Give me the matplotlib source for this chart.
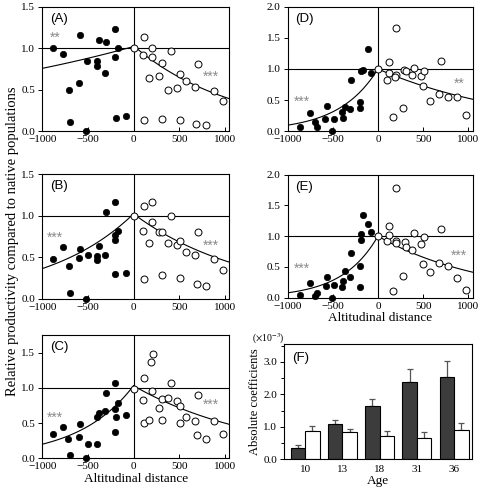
import numpy as np
import matplotlib
matplotlib.use("Agg")
import matplotlib.pyplot as plt
from matplotlib.ticker import MultipleLocator

plt.rcParams['font.family'] = ['Liberation Serif', 'DejaVu Serif']
plt.rcParams['mathtext.fontset'] = 'stix'

# ---- data ----
# panel A
a_fill_x = [-888, -772, -709, -698, -601, -582, -519, -507, -403, -396, -377, -313, -302, -198, -205, -194, -175, -82]
a_fill_y = [1.0, 0.93, 0.50, 0.11, 0.58, 1.16, 0.0, 0.85, 0.79, 0.85, 1.10, 0.70, 1.08, 1.23, 0.89, 0.16, 1.0, 0.18]
a_open_x = [0, 112, 101, 205, 205, 175, 276, 310, 377, 407, 474, 511, 575, 675, 709, 877, 981, 112, 317, 515, 690, 799]
a_open_y = [1.0, 1.14, 0.92, 1.0, 0.89, 0.64, 0.67, 0.82, 0.50, 0.97, 0.52, 0.69, 0.61, 0.53, 0.81, 0.48, 0.36, 0.14, 0.15, 0.14, 0.09, 0.07]
# panel B
b_fill_x = [-888, -772, -709, -694, -601, -582, -519, -504, -403, -396, -377, -317, -306, -198, -205, -205, -175, -198, -82]
b_fill_y = [0.48, 0.62, 0.39, 0.07, 0.49, 0.60, 0.0, 0.52, 0.46, 0.51, 0.63, 0.52, 1.04, 1.16, 0.76, 0.71, 0.81, 0.29, 0.31]
b_open_x = [0, 112, 104, 112, 205, 205, 175, 276, 310, 313, 377, 407, 474, 511, 515, 575, 675, 709, 694, 799, 877, 981]
b_open_y = [1.0, 1.12, 0.81, 0.24, 1.16, 0.92, 0.67, 0.80, 0.80, 0.28, 0.67, 0.99, 0.65, 0.69, 0.25, 0.56, 0.52, 0.80, 0.17, 0.15, 0.47, 0.34]
# panel C
c_fill_x = [-888, -772, -713, -694, -601, -582, -519, -504, -403, -396, -377, -313, -302, -201, -205, -194, -201, -175, -82]
c_fill_y = [0.35, 0.45, 0.27, 0.05, 0.30, 0.49, 0.0, 0.21, 0.59, 0.20, 0.65, 0.67, 0.93, 1.07, 0.70, 0.58, 0.37, 0.79, 0.61]
c_open_x = [0, 112, 104, 112, 194, 209, 205, 175, 276, 310, 317, 377, 407, 474, 511, 515, 575, 675, 709, 694, 799, 877, 981]
c_open_y = [0.99, 1.14, 0.83, 0.50, 1.37, 1.48, 0.95, 0.55, 0.72, 0.84, 0.55, 0.85, 1.07, 0.81, 0.74, 0.50, 0.58, 0.53, 0.90, 0.33, 0.28, 0.53, 0.35]
# panel D
d_fill_x = [-868, -755, -696, -674, -586, -568, -509, -491, -403, -385, -366, -308, -297, -198, -198, -183, -165, -106, -81]
d_fill_y = [0.075, 0.30, 0.14, 0.065, 0.19, 0.40, 0.0, 0.19, 0.31, 0.22, 0.39, 0.36, 0.83, 0.47, 0.37, 0.97, 0.98, 1.32, 0.94]
d_open_x = [0, 117, 103, 125, 198, 201, 194, 172, 275, 293, 311, 377, 403, 480, 509, 502, 575, 674, 700, 780, 872, 971]
d_open_y = [1.0, 1.11, 0.82, 0.93, 1.66, 0.91, 0.87, 0.23, 0.38, 0.99, 0.96, 0.91, 1.02, 0.88, 0.96, 0.72, 0.49, 0.59, 1.13, 0.55, 0.55, 0.26]
# panel E
e_fill_x = [-864, -755, -696, -674, -579, -568, -509, -491, -403, -385, -366, -308, -297, -198, -198, -183, -183, -165, -106, -81]
e_fill_y = [0.05, 0.24, 0.02, 0.08, 0.19, 0.34, 0.0, 0.20, 0.17, 0.27, 0.44, 0.34, 0.72, 0.52, 0.18, 0.93, 1.04, 1.34, 1.20, 1.06]
e_open_x = [0, 117, 103, 125, 198, 198, 201, 172, 278, 297, 315, 377, 403, 480, 509, 502, 575, 674, 700, 780, 872, 971]
e_open_y = [1.0, 1.16, 0.92, 1.02, 1.78, 0.92, 0.89, 0.11, 0.36, 0.91, 0.82, 0.78, 1.05, 0.87, 0.98, 0.54, 0.41, 0.57, 1.12, 0.51, 0.32, 0.12]

# exponential fits: (intercept, rate) for the lower (left) and upper (right) side
fit_left = {'A': (1.02, 0.000298), 'B': (1.02, 0.00104), 'C': (1.03, 0.00164),
            'D': (1.00, 0.00233), 'E': (1.00, 0.00253)}
fit_right = {'A': (1.03, 0.00092), 'B': (1.02, 0.000805), 'C': (1.03, 0.000723),
             'D': (1.00, 0.000635), 'E': (1.00, 0.00084)}
sig_left = {'A': '**', 'B': '***', 'C': '***', 'D': '***', 'E': '***'}
sig_right = {'A': '***', 'B': '***', 'C': '***', 'D': '**', 'E': '***'}

# panel F
ages = ['10', '13', '18', '31', '36']
coef_low = [0.35, 1.08, 1.63, 2.38, 2.53]
coef_low_err = [0.08, 0.12, 0.24, 0.40, 0.51]
coef_high = [0.88, 0.83, 0.73, 0.66, 0.89]
coef_high_err = [0.14, 0.10, 0.14, 0.19, 0.24]

W, H = 480, 491
fig = plt.figure(figsize=(W / 100, H / 100), dpi=100)
SANS = ['Liberation Sans', 'DejaVu Sans']


def box(l, r, t, b):
    return [l / W, 1 - b / H, (r - l) / W, (b - t) / H]


def scatter_panel(rect, tag, fx, fy, ox, oy, ylim, sigpos, xlabel=False):
    ax = fig.add_axes(rect)
    ax.axhline(1.0, color='black', lw=0.8, zorder=1)
    ax.axvline(0, color='black', lw=0.8, zorder=1)
    a, k = fit_left[tag]
    xl = np.linspace(-1000, 0, 100)
    ax.plot(xl, a * np.exp(k * xl), color='black', lw=0.8, zorder=2)
    a, k = fit_right[tag]
    xr = np.linspace(0, 1050, 100)
    ax.plot(xr, a * np.exp(-k * xr), color='black', lw=0.8, zorder=2)
    ax.plot(ox, oy, 'o', ms=5.0, mfc='white', mec='black', mew=0.7, clip_on=False, zorder=3)
    ax.plot(fx, fy, 'o', ms=4.6, mfc='black', mec='black', mew=0.5, clip_on=False, zorder=4)
    ax.set_xlim(-1000, 1050)
    ax.set_ylim(*ylim)
    ax.set_xticks([-1000, -500, 0, 500, 1000])
    ax.yaxis.set_major_locator(MultipleLocator(0.5))
    ax.yaxis.set_major_formatter(matplotlib.ticker.FormatStrFormatter('%.1f'))
    ax.tick_params(axis='x', direction='in', length=3, width=0.7, labelsize=8, pad=3)
    ax.tick_params(axis='y', direction='out', length=3, width=0.7, labelsize=8, pad=2)
    for s in ax.spines.values():
        s.set_linewidth(0.8)
    ax.text(0.04, 0.95, '(' + tag + ')', transform=ax.transAxes, ha='left', va='top',
            fontsize=9.5, family=SANS)
    (lx, ly), (rx, ry) = sigpos
    ax.text(lx, ly, sig_left[tag], color='#8a8a8a', fontsize=10, ha='center', va='center', family=SANS)
    ax.text(rx, ry, sig_right[tag], color='#8a8a8a', fontsize=10, ha='center', va='center', family=SANS)
    if xlabel:
        ax.set_xlabel('Altitudinal distance', fontsize=9.5, labelpad=1)
    return ax


scatter_panel(box(42.3, 229.3, 6.7, 131.2), 'A', a_fill_x, a_fill_y, a_open_x, a_open_y,
              (0, 1.5), ((-860, 1.13), (850, 0.66)))
scatter_panel(box(42.3, 229.3, 174, 298.5), 'B', b_fill_x, b_fill_y, b_open_x, b_open_y,
              (0, 1.5), ((-860, 0.73), (850, 0.64)))
scatter_panel(box(42.3, 229.3, 335, 458.3), 'C', c_fill_x, c_fill_y, c_open_x, c_open_y,
              (0, 1.75), ((-860, 0.58), (850, 0.76)), xlabel=True)
scatter_panel(box(287.7, 472.7, 6.7, 131.2), 'D', d_fill_x, d_fill_y, d_open_x, d_open_y,
              (0, 2.0), ((-840, 0.48), (900, 0.76)))
scatter_panel(box(287.7, 472.7, 174.5, 297.7), 'E', e_fill_x, e_fill_y, e_open_x, e_open_y,
              (0, 2.0), ((-840, 0.47), (900, 0.68)), xlabel=True)

fig.text(13 / W, 1 - 241 / H, 'Relative productivity compared to native populations',
         rotation=90, ha='center', va='center', fontsize=10.5)

# panel F
axf = fig.add_axes(box(284.3, 471.7, 344.3, 459.3))
pos = np.arange(len(ages))
bw = 0.39
axf.bar(pos - bw / 2, coef_low, bw, color='#3c3c3c', edgecolor='black', lw=0.8, zorder=2)
axf.bar(pos + bw / 2, coef_high, bw, color='white', edgecolor='black', lw=0.8, zorder=2)
axf.errorbar(pos - bw / 2, coef_low, yerr=[np.zeros(5), coef_low_err], fmt='none',
             ecolor='#555555', elinewidth=0.9, capsize=2.5, capthick=0.9, zorder=1)
axf.errorbar(pos + bw / 2, coef_high, yerr=[np.zeros(5), coef_high_err], fmt='none',
             ecolor='#555555', elinewidth=0.9, capsize=2.5, capthick=0.9, zorder=1)
axf.set_xlim(-0.56, 4.47)
axf.set_ylim(0, 3.54)
axf.set_xticks(pos)
axf.set_xticklabels(ages)
axf.yaxis.set_major_locator(MultipleLocator(1.0))
axf.yaxis.set_minor_locator(MultipleLocator(0.5))
axf.yaxis.set_major_formatter(matplotlib.ticker.FormatStrFormatter('%.1f'))
axf.tick_params(axis='x', direction='in', length=0, labelsize=8, pad=4)
axf.tick_params(axis='y', which='both', direction='out', length=3, width=0.7, labelsize=8, pad=2)
axf.tick_params(axis='y', which='minor', length=2)
for s in axf.spines.values():
    s.set_linewidth(0.8)
axf.set_xlabel('Age', fontsize=9.5, labelpad=1)
axf.set_ylabel('Absolute coefficients', fontsize=9, labelpad=2)
axf.text(0.04, 0.93, '(F)', transform=axf.transAxes, ha='left', va='top', fontsize=9.5, family=SANS)
fig.text(268 / W, 1 - 339 / H, r'($\times$10$^{-3}$)', ha='center', va='center', fontsize=7)

fig.savefig('out.png', dpi=100)
